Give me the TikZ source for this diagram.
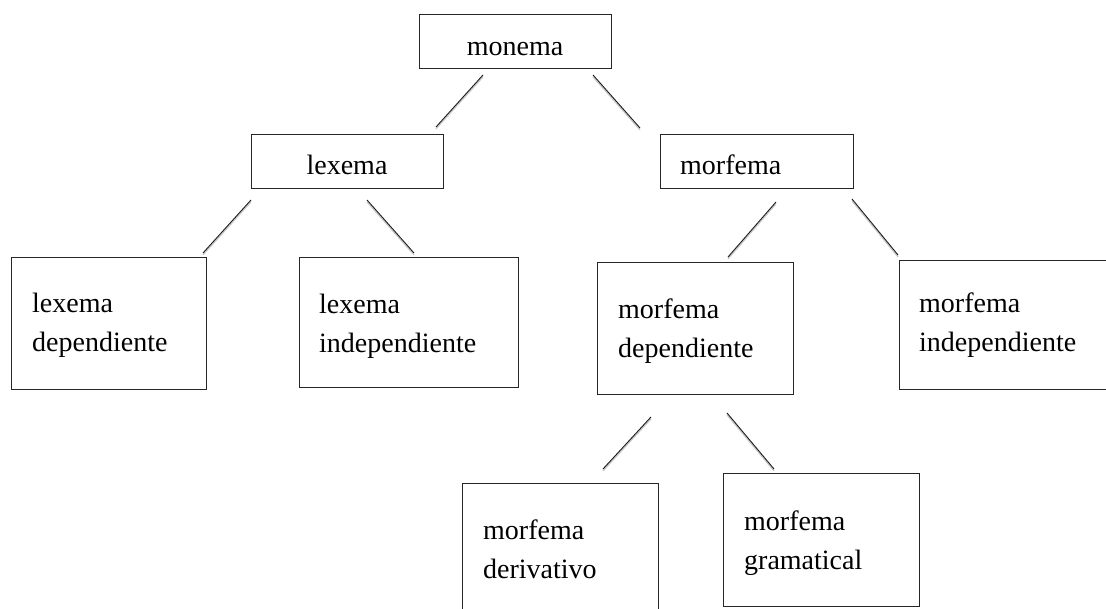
\documentclass[tikz,border=0pt]{standalone}
\usepackage{fontspec}
\setmainfont{Liberation Serif}
\begin{document}
\begin{tikzpicture}[x=1pt,y=-1pt,
  box/.style={draw=black!85,line width=0.9pt,fill=white,inner sep=0pt,anchor=north west},
  lbl/.style={inner sep=0pt,font=\fontsize{28}{39}\selectfont,align=left},
  link/.style={draw=black!90,line width=0.9pt},
  linkshadow/.style={draw=black!22,line width=1.3pt}]
\useasboundingbox (0,0) rectangle (1106,608);
\clip (0,0) rectangle (1106,608);

% boxes
\node[box,minimum width=192pt,minimum height=54pt] (monema) at (419,14) {};
\node[box,minimum width=192pt,minimum height=54pt] (lexema) at (251,134) {};
\node[box,minimum width=193pt,minimum height=54pt] (morfema) at (660,134) {};
\node[box,minimum width=195pt,minimum height=132pt] (lexdep) at (11,257) {};
\node[box,minimum width=219pt,minimum height=130pt] (lexind) at (299,257) {};
\node[box,minimum width=196pt,minimum height=132pt] (morfdep) at (597,262) {};
\node[box,minimum width=240pt,minimum height=129pt] (morfind) at (899,260) {};
\node[box,minimum width=196pt,minimum height=150pt] (morfder) at (462,483) {};
\node[box,minimum width=196pt,minimum height=133pt] (morfgram) at (723,473) {};

% labels (base anchor = baseline of the last line)
\node[lbl,anchor=base] (tmonema) at (515,55) {monema};
\node[lbl,anchor=base] (tlexema) at (347,174) {lexema};
\node[lbl,anchor=base west] (tmorfema) at (680,174) {morfema};
\node[lbl,anchor=base west] (tlexdep) at (32,351) {lexema\\dependiente};
\node[lbl,anchor=base west] (tlexind) at (319,352) {lexema\\independiente};
\node[lbl,anchor=base west] (tmorfdep) at (618,357) {morfema\\dependiente};
\node[lbl,anchor=base west] (tmorfind) at (919,351) {morfema\\independiente};
\node[lbl,anchor=base west] (tmorfder) at (483,578) {morfema\\derivativo};
\node[lbl,anchor=base west] (tmorfgram) at (744,569) {morfema\\gramatical};

% connector end points
\coordinate (c1a) at (483,75);  \coordinate (c1b) at (436,127);
\coordinate (c2a) at (593,75);  \coordinate (c2b) at (640,128);
\coordinate (c3a) at (251,200); \coordinate (c3b) at (203,253);
\coordinate (c4a) at (367,200); \coordinate (c4b) at (414,253);
\coordinate (c5a) at (776,202); \coordinate (c5b) at (728,257);
\coordinate (c6a) at (852,199); \coordinate (c6b) at (898,255);
\coordinate (c7a) at (651,417); \coordinate (c7b) at (603,469);
\coordinate (c8a) at (727,413); \coordinate (c8b) at (774,469);

% connectors with a soft drop shadow
\foreach \p in {1,...,8}{
  \draw[linkshadow] ([yshift=-1.8pt]c\p a) -- ([yshift=-1.8pt]c\p b);
  \draw[link] (c\p a) -- (c\p b);
}
\end{tikzpicture}
\end{document}
